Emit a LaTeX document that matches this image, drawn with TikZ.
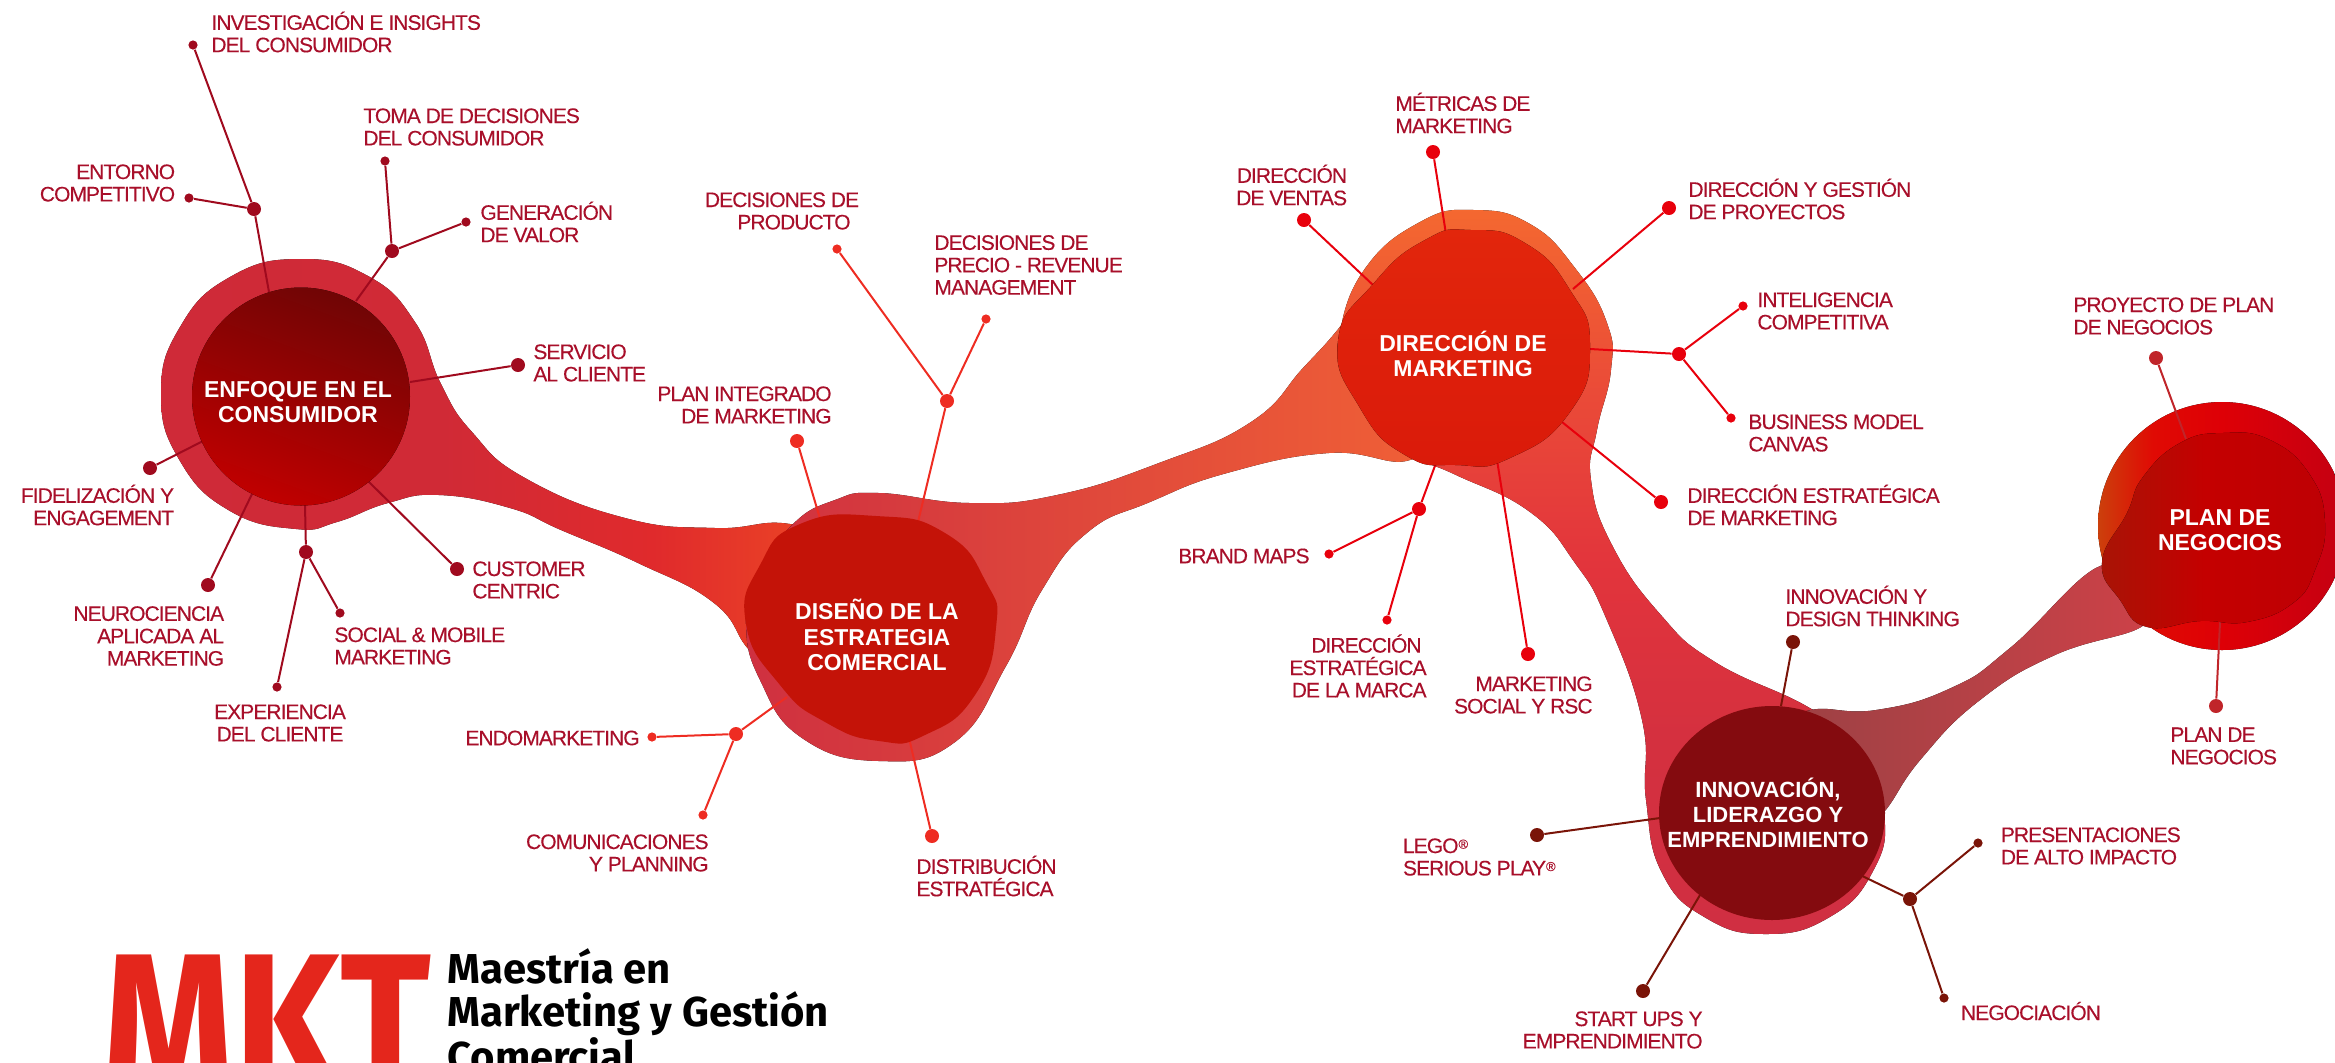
\documentclass[tikz,border=0pt]{standalone}
\usepackage{fontspec}
\setmainfont{Liberation Sans}
\newfontfamily\lblfont[LetterSpace=-4.5,FakeBold=0.25]{Liberation Sans}
\newfontfamily\hubfont{Liberation Sans}
\newfontfamily\logofont{Fira Sans}
\definecolor{lbl}{HTML}{A80F2A}
\definecolor{gA}{HTML}{A00A1E}
\definecolor{gB}{HTML}{EE2C22}
\definecolor{gC}{HTML}{E8000C}
\definecolor{gD}{HTML}{7A1408}
\definecolor{gE}{HTML}{C0252A}
\definecolor{a1}{RGB}{207,42,56}
\definecolor{a2}{RGB}{208,42,54}
\definecolor{a3}{RGB}{224,42,44}
\definecolor{a4}{RGB}{238,76,36}
\definecolor{b1}{RGB}{207,48,64}
\definecolor{b2}{RGB}{220,64,64}
\definecolor{b3}{RGB}{240,96,54}
\definecolor{c1}{RGB}{244,104,48}
\definecolor{c2}{RGB}{234,74,56}
\definecolor{c3}{RGB}{226,52,60}
\definecolor{c4}{RGB}{212,48,63}
\definecolor{c5}{RGB}{208,47,66}
\definecolor{d1}{RGB}{156,65,68}
\definecolor{d2}{RGB}{206,65,72}
\definecolor{e1}{RGB}{204,64,12}
\definecolor{e2}{RGB}{224,10,4}
\definecolor{e3}{RGB}{222,0,6}
\definecolor{e4}{RGB}{196,0,18}
\definecolor{f1}{RGB}{168,20,6}
\definecolor{f2}{RGB}{196,0,0}
\definecolor{f3}{RGB}{190,0,4}
\definecolor{h1}{RGB}{112,5,5}
\definecolor{h2}{RGB}{192,0,0}
\definecolor{h3}{RGB}{196,19,8}
\definecolor{h4}{RGB}{226,38,12}
\definecolor{h5}{RGB}{218,26,10}
\definecolor{h6}{RGB}{132,11,15}
\definecolor{mk}{RGB}{228,38,28}
\pgfdeclarehorizontalshading{shA}{100bp}{color(0bp)=(a1); color(25bp)=(a1); color(45bp)=(a2); color(60bp)=(a3); color(75bp)=(a4); color(100bp)=(a4)}
\pgfdeclareverticalshading{shC}{100bp}{color(0bp)=(c5); color(25bp)=(c5); color(38bp)=(c4); color(50bp)=(c3); color(62bp)=(c2); color(75bp)=(c1); color(100bp)=(c1)}
\pgfdeclarehorizontalshading{shE}{100bp}{color(0bp)=(e1); color(25bp)=(e1); color(36bp)=(e2); color(50bp)=(e3); color(75bp)=(e4); color(100bp)=(e4)}
\pgfdeclarehorizontalshading{shF}{100bp}{color(0bp)=(f1); color(25bp)=(f1); color(48bp)=(f2); color(75bp)=(f3); color(100bp)=(f3)}
\newcommand{\regmark}{\raisebox{2.2pt}{\fontsize{6.5pt}{6.5pt}\selectfont ®}}
\tikzset{
  lab/.style={inner sep=0pt,text=lbl,font=\fontsize{10.5pt}{11.2pt}\selectfont\lblfont},
  labL/.style={lab,anchor=west,align=left},
  labR/.style={lab,anchor=east,align=right},
  labC/.style={lab,anchor=center,align=center},
  hub/.style={inner sep=0pt,text=white,align=center,font=\fontsize{11.5pt}{12.6pt}\selectfont\hubfont\bfseries},
  hubsmall/.style={hub,font=\fontsize{11pt}{12.6pt}\selectfont\hubfont\bfseries},
  bigdot/.style={circle,inner sep=0pt,minimum size=7pt,fill=#1},
  smalldot/.style={circle,inner sep=0pt,minimum size=4.6pt,fill=#1},
  wire/.style={draw=#1,line width=1pt},
}
\begin{document}
\begin{tikzpicture}[x=0.5pt,y=-0.5pt]
\useasboundingbox (0,0) rectangle (2335,1062);
% flowing bands with the outer blobs
\fill[shading=shA] plot[smooth cycle,tension=0.8] coordinates {(161,394) (180,327) (230,277) (300,259) (368,276) (415,322) (441,384) (472,432) (525,478) (625,518) (715,528) (790,524) (850,550) (850,650) (790,685) (750,651) (714,603) (638,563) (561,530) (510,508) (439,495) (388,503) (337,522) (296,529) (230,511) (180,461)};
\fill[left color=b1,middle color=b2,right color=b3] plot[smooth cycle,tension=0.8] coordinates {(792,525) (835,500) (879,493) (970,503) (1057,495) (1159,463) (1251,422) (1303,368) (1339,328) (1368,288) (1420,300) (1430,420) (1410,460) (1329,453) (1227,473) (1150,502) (1088,532) (1042,590) (1006,666) (955,742) (879,761) (802,738) (760,680) (746,624) (756,577)};
\fill[shading=shC] plot[smooth cycle,tension=0.8] coordinates {(1339,337) (1364,270) (1420,222) (1474,210) (1530,224) (1575,268) (1607,323) (1611,370) (1597,430) (1591,480) (1612,545) (1660,614) (1715,662) (1808,707) (1858,745) (1884,813) (1872,873) (1828,918) (1766,934) (1706,918) (1662,873) (1646,800) (1642,720) (1606,618) (1575,563) (1530,512) (1456,475) (1410,455) (1385,430) (1360,395) (1345,365)};
\fill[left color=d1,right color=d2] plot[smooth cycle,tension=0.8] coordinates {(1811,710) (1876,710) (1951,688) (2010,648) (2100,566) (2125,600) (2144,625) (2055,655) (1980,700) (1921,759) (1884,812) (1860,830) (1800,800) (1790,730)};
\fill[shading=shE] (2222,526) circle[radius=62pt];
% anchor points of the connectors on the hubs
\coordinate (eA1) at (269,292); \coordinate (eA2) at (356,301); \coordinate (eA3) at (410,382);
\coordinate (eA4) at (203,441); \coordinate (eA5) at (252,494); \coordinate (eA6) at (305,505);
\coordinate (eA7) at (368,481);
\coordinate (eB1) at (821,522); \coordinate (eB2) at (918,522); \coordinate (eB3) at (787,697); \coordinate (eB4) at (909,738);
\coordinate (eC1) at (1446,234); \coordinate (eC2) at (1373,285); \coordinate (eC3) at (1573,289);
\coordinate (eC4) at (1590,349); \coordinate (eC5) at (1562,422); \coordinate (eC6) at (1497,460); \coordinate (eC7) at (1436,463);
\coordinate (eD1) at (1781,706); \coordinate (eD2) at (1660,818); \coordinate (eD3) at (1856,873); \coordinate (eD4) at (1700,895);
\coordinate (eE1) at (2186,439); \coordinate (eE2) at (2220,622);
% group 1
\node[smalldot=gA] (inv) at (193,45) {}; \node[bigdot=gA] (j1) at (254,209) {}; \node[smalldot=gA] (ent) at (189,198) {};
\node[smalldot=gA] (tom) at (385,161) {}; \node[bigdot=gA] (j2) at (392,251) {}; \node[smalldot=gA] (gen) at (466,222) {};
\node[bigdot=gA] (ser) at (518,365) {}; \node[bigdot=gA] (fid) at (150,468) {}; \node[bigdot=gA] (neu) at (208,585) {};
\node[bigdot=gA] (j3) at (306,552) {}; \node[smalldot=gA] (soc) at (340,613) {}; \node[smalldot=gA] (exp) at (277,687) {};
\node[bigdot=gA] (cus) at (457,569) {};
\draw[wire=gA] (inv)--(j1); \draw[wire=gA] (ent)--(j1); \draw[wire=gA] (j1)--(eA1);
\draw[wire=gA] (tom)--(j2); \draw[wire=gA] (gen)--(j2); \draw[wire=gA] (j2)--(eA2);
\draw[wire=gA] (ser)--(eA3); \draw[wire=gA] (fid)--(eA4); \draw[wire=gA] (neu)--(eA5);
\draw[wire=gA] (j3)--(eA6); \draw[wire=gA] (soc)--(j3); \draw[wire=gA] (exp)--(j3); \draw[wire=gA] (cus)--(eA7);
% group 2
\node[bigdot=gB] (pla) at (797,441) {}; \node[bigdot=gB] (j4) at (947,401) {};
\node[smalldot=gB] (pro) at (837,249) {}; \node[smalldot=gB] (pre) at (986,319) {};
\node[bigdot=gB] (j5) at (736,734) {}; \node[smalldot=gB] (end) at (652,737) {}; \node[smalldot=gB] (com) at (703,815) {};
\node[bigdot=gB] (dis) at (932,836) {};
\draw[wire=gB] (pla)--(eB1); \draw[wire=gB] (pro)--(j4); \draw[wire=gB] (pre)--(j4); \draw[wire=gB] (j4)--(eB2);
\draw[wire=gB] (j5)--(eB3); \draw[wire=gB] (end)--(j5); \draw[wire=gB] (com)--(j5); \draw[wire=gB] (dis)--(eB4);
% group 3
\node[bigdot=gC] (met) at (1433,152) {}; \node[bigdot=gC] (ven) at (1304,220) {}; \node[bigdot=gC] (pry) at (1669,208) {};
\node[bigdot=gC] (j6) at (1679,354) {}; \node[smalldot=gC] (int) at (1743,306) {}; \node[smalldot=gC] (can) at (1731,418) {};
\node[bigdot=gC] (dem) at (1661,502) {}; \node[bigdot=gC] (rsc) at (1528,654) {};
\node[bigdot=gC] (j7) at (1419,509) {}; \node[smalldot=gC] (bra) at (1329,554) {}; \node[smalldot=gC] (dma) at (1387,620) {};
\draw[wire=gC] (met)--(eC1); \draw[wire=gC] (ven)--(eC2); \draw[wire=gC] (pry)--(eC3);
\draw[wire=gC] (j6)--(eC4); \draw[wire=gC] (int)--(j6); \draw[wire=gC] (can)--(j6);
\draw[wire=gC] (dem)--(eC5); \draw[wire=gC] (rsc)--(eC6);
\draw[wire=gC] (j7)--(eC7); \draw[wire=gC] (bra)--(j7); \draw[wire=gC] (dma)--(j7);
% group 4
\node[bigdot=gD] (inn) at (1793,642) {}; \node[bigdot=gD] (leg) at (1537,835) {}; \node[bigdot=gD] (j8) at (1910,899) {};
\node[smalldot=gD] (prs) at (1978,843) {}; \node[smalldot=gD] (neg) at (1944,998) {}; \node[bigdot=gD] (sta) at (1643,991) {};
\draw[wire=gD] (inn)--(eD1); \draw[wire=gD] (leg)--(eD2); \draw[wire=gD] (j8)--(eD3);
\draw[wire=gD] (prs)--(j8); \draw[wire=gD] (neg)--(j8); \draw[wire=gD] (sta)--(eD4);
% group 5
\node[bigdot=gE] (ppn) at (2156,358) {}; \node[bigdot=gE] (pdn) at (2216,706) {};
\draw[wire=gE] (ppn)--(eE1); \draw[wire=gE] (pdn)--(eE2);
% inner blobs
\fill[left color=h1,right color=h2,shading angle=-20] (301,396.5) circle[radius=54.5pt];
\fill[h3] plot[smooth cycle,tension=0.9] coordinates {(746,624) (760,565) (800,524) (876,516) (945,533) (986,582) (996,628) (975,695) (925,735) (879,741) (825,722) (780,685)};
\fill[top color=h4,bottom color=h5] plot[smooth cycle,tension=0.9] coordinates {(1338,341) (1374,283) (1425,240) (1471,230) (1525,243) (1570,290) (1590,346) (1570,412) (1510,458) (1456,465) (1405,455) (1360,408)};
\fill[h6] (1772,813) ellipse[x radius=56.5pt,y radius=53.5pt];
\fill[shading=shF] plot[smooth cycle,tension=0.8] coordinates {(2102,562) (2127,513) (2143,477) (2180,443) (2223,433) (2270,440) (2310,475) (2325,523) (2315,570) (2293,603) (2247,622) (2200,621) (2147,627) (2120,600)};
% hub titles
\node[hub] (tA) at (298,402) {ENFOQUE EN EL\\CONSUMIDOR};
\node[hub] (tB) at (877,635) {DISEÑO DE LA\\ESTRATEGIA\\COMERCIAL};
\node[hub] (tC) at (1463,354) {DIRECCIÓN DE\\MARKETING};
\node[hubsmall] (tD) at (1768,813) {INNOVACIÓN,\\LIDERAZGO Y\\EMPRENDIMIENTO};
\node[hub] (tE) at (2220,530) {PLAN DE\\NEGOCIOS};
% labels
\node[labL] (l1) at (211,32) {INVESTIGACIÓN E INSIGHTS\\DEL CONSUMIDOR};
\node[labL] (l2) at (363,127) {TOMA DE DECISIONES\\DEL CONSUMIDOR};
\node[labR] (l3) at (175.5,183) {ENTORNO\\COMPETITIVO};
\node[labL] (l4) at (480,222) {GENERACIÓN\\DE VALOR};
\node[labL] (l5) at (533,363) {SERVICIO\\AL CLIENTE};
\node[labR] (l6) at (174.5,505) {FIDELIZACIÓN Y\\ENGAGEMENT};
\node[labR] (l7) at (224.5,636) {NEUROCIENCIA\\APLICADA AL\\MARKETING};
\node[labL] (l8) at (472,580) {CUSTOMER\\CENTRIC};
\node[labL] (l9) at (334,646) {SOCIAL \& MOBILE\\MARKETING};
\node[labC] (l10) at (280,723) {EXPERIENCIA\\DEL CLIENTE};
\node[labR] (l11) at (640,738) {ENDOMARKETING};
\node[labC] (l12) at (782,211) {DECISIONES DE\\\hspace*{12pt}PRODUCTO};
\node[labL] (l13) at (934,265) {DECISIONES DE\\PRECIO - REVENUE\\MANAGEMENT};
\node[labR] (l14) at (832,405) {PLAN INTEGRADO\\DE MARKETING};
\node[labR] (l15) at (709,853) {COMUNICACIONES\\Y PLANNING};
\node[labL] (l16) at (916,876) {DISTRIBUCIÓN\\ESTRATÉGICA};
\node[labR] (l17) at (1310,556) {BRAND MAPS};
\node[labR] (l18) at (1427,666) {DIRECCIÓN\hspace*{2.5pt}\\ESTRATÉGICA\\DE LA MARCA};
\node[labR] (l19) at (1593,695) {MARKETING\\SOCIAL Y RSC};
\node[labL] (l20) at (1395,113) {MÉTRICAS DE\\MARKETING};
\node[labR] (l21) at (1347.5,185) {DIRECCIÓN\\DE VENTAS};
\node[labL] (l22) at (1688,199) {DIRECCIÓN Y GESTIÓN\\DE PROYECTOS};
\node[labL] (l23) at (1757,311) {INTELIGENCIA\\COMPETITIVA};
\node[labL] (l24) at (1748,433) {BUSINESS MODEL\\CANVAS};
\node[labL] (l25) at (1687,505) {DIRECCIÓN ESTRATÉGICA\\DE MARKETING};
\node[labL] (l26) at (1785,606) {INNOVACIÓN Y\\DESIGN THINKING};
\node[labL] (l27) at (2073,316) {PROYECTO DE PLAN\\DE NEGOCIOS};
\node[labL] (l28) at (2170,746) {PLAN DE\\NEGOCIOS};
\node[labL] (l29) at (2000.5,846) {PRESENTACIONES\\DE ALTO IMPACTO};
\node[labL] (l30) at (1960.6,1011) {NEGOCIACIÓN};
\node[labR] (l31) at (1703,1030) {START UPS Y\\EMPRENDIMIENTO};
\node[labL] (l32) at (1402.6,857) {LEGO\regmark\\SERIOUS PLAY\regmark};
% logo
\node[anchor=base west,inner sep=0pt,text=mk,font=\fontsize{100pt}{100pt}\selectfont\logofont\bfseries] (mkt) at (102,1093) {\scalebox{0.84}[1]{MKT}};
\node[anchor=north west,inner sep=0pt,text=black,font=\fontsize{20.9pt}{21.5pt}\selectfont\logofont\bfseries,align=left] (ttl) at (447,948) {Maestría en\\Marketing y Gestión\\Comercial};
\end{tikzpicture}
\end{document}
